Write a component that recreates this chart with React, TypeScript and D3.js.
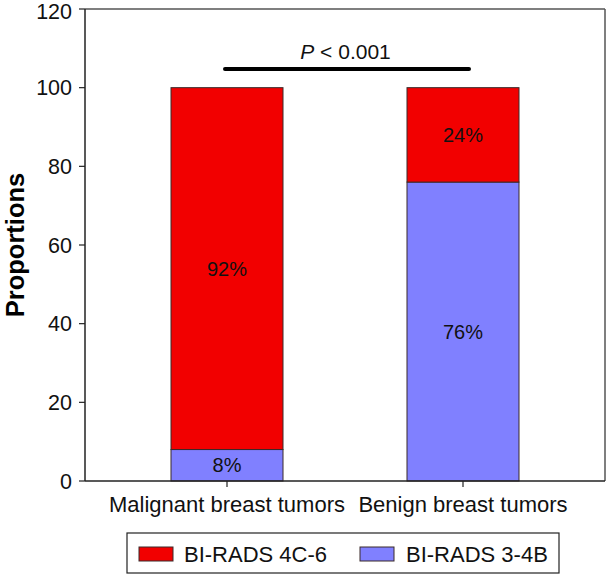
import React from "react";
import * as d3 from "d3";

const categories = ["Malignant breast tumors", "Benign breast tumors"];
const seriesNames = ["BI-RADS 3-4B", "BI-RADS 4C-6"];
const lowValues = [8, 76]; // BI-RADS 3-4B
const highValues = [92, 24]; // BI-RADS 4C-6
const yTicks = [0, 20, 40, 60, 80, 100, 120];
const pLabel = "< 0.001";

const W = 607;
const H = 574;
const FONT = "'Liberation Sans', Arial, Helvetica, sans-serif";
const RED = "#f20000";
const BLUE = "#8080ff";

export default function App() {
  const left = 85, right = 605, top = 9, bottom = 481;
  const y = d3.scaleLinear().domain([0, 120]).range([bottom, top]);
  const x = d3
    .scaleBand<string>()
    .domain(categories)
    .range([left, right])
    .paddingInner(0.5254)
    .paddingOuter(0.3644);
  const bw = x.bandwidth();

  const stackData = categories.map((c, i) => ({ c, low: lowValues[i], high: highValues[i] }));
  const stack = d3.stack<any>().keys(["low", "high"])(stackData as any);
  const colors: Record<string, string> = { low: BLUE, high: RED };

  const x1 = x(categories[0])! + bw / 2;
  const x2 = x(categories[1])! + bw / 2;

  return (
    <svg width={W} height={H} style={{ position: "absolute", left: 0, top: 0, background: "#fff" }} fontFamily={FONT}>
      {/* frame top & right */}
      <line x1={left} x2={right} y1={top} y2={top} stroke="#555" strokeWidth={1.5} />
      <line x1={right} x2={right} y1={top} y2={bottom} stroke="#555" strokeWidth={1.5} />
      {/* bars */}
      {stack.map((layer) =>
        layer.map((d, i) => (
          <g key={layer.key + i}>
            <rect
              x={x(categories[i])}
              width={bw}
              y={y(d[1])}
              height={y(d[0]) - y(d[1])}
              fill={colors[layer.key]}
              stroke="#3a2a2a"
              strokeWidth={1}
            />
            <text
              x={x(categories[i])! + bw / 2}
              y={(y(d[0]) + y(d[1])) / 2}
              dy="0.36em"
              textAnchor="middle"
              fontSize={20}
              fill="#111"
            >
              {`${d[1] - d[0]}%`}
            </text>
          </g>
        ))
      )}
      {/* y axis */}
      <line x1={left} x2={left} y1={top} y2={bottom} stroke="#222" strokeWidth={1.5} />
      {yTicks.map((t) => (
        <g key={t}>
          <line x1={left - 6} x2={left} y1={y(t)} y2={y(t)} stroke="#222" strokeWidth={1.2} />
          <text x={left - 13} y={Math.max(y(t), 11)} dy="0.36em" textAnchor="end" fontSize={21.5} fill="#111">
            {t}
          </text>
        </g>
      ))}
      {/* x axis */}
      <line x1={left} x2={right} y1={bottom} y2={bottom} stroke="#222" strokeWidth={1.5} />
      {categories.map((c) => (
        <g key={c}>
          <line x1={x(c)! + bw / 2} x2={x(c)! + bw / 2} y1={bottom} y2={bottom + 6} stroke="#222" strokeWidth={1.2} />
          <text x={x(c)! + bw / 2} y={512} textAnchor="middle" fontSize={22} fill="#111">
            {c}
          </text>
        </g>
      ))}
      {/* y label */}
      <text
        transform={`translate(24,${(top + bottom) / 2}) rotate(-90)`}
        textAnchor="middle"
        fontSize={25.5}
        fontWeight="bold"
        fill="#000"
      >
        Proportions
      </text>
      {/* significance */}
      <line x1={x1 - 2} x2={x2 + 6} y1={69} y2={69} stroke="#000" strokeWidth={4} strokeLinecap="round" />
      <text x={345.5} y={59} textAnchor="middle" fontSize={21} fill="#111">
        <tspan fontStyle="italic">P</tspan>
        {` ${pLabel}`}
      </text>
      {/* legend */}
      <rect x={127} y={533} width={432} height={40} fill="#fff" stroke="#222" strokeWidth={1.2} />
      <rect x={139} y={547} width={34} height={14} fill={RED} stroke="#3a2a2a" strokeWidth={1} />
      <text x={184} y={561.5} fontSize={22} fill="#111">{seriesNames[1]}</text>
      <rect x={360} y={547} width={34} height={14} fill={BLUE} stroke="#3a2a2a" strokeWidth={1} />
      <text x={406} y={561.5} fontSize={22} fill="#111">{seriesNames[0]}</text>
    </svg>
  );
}
